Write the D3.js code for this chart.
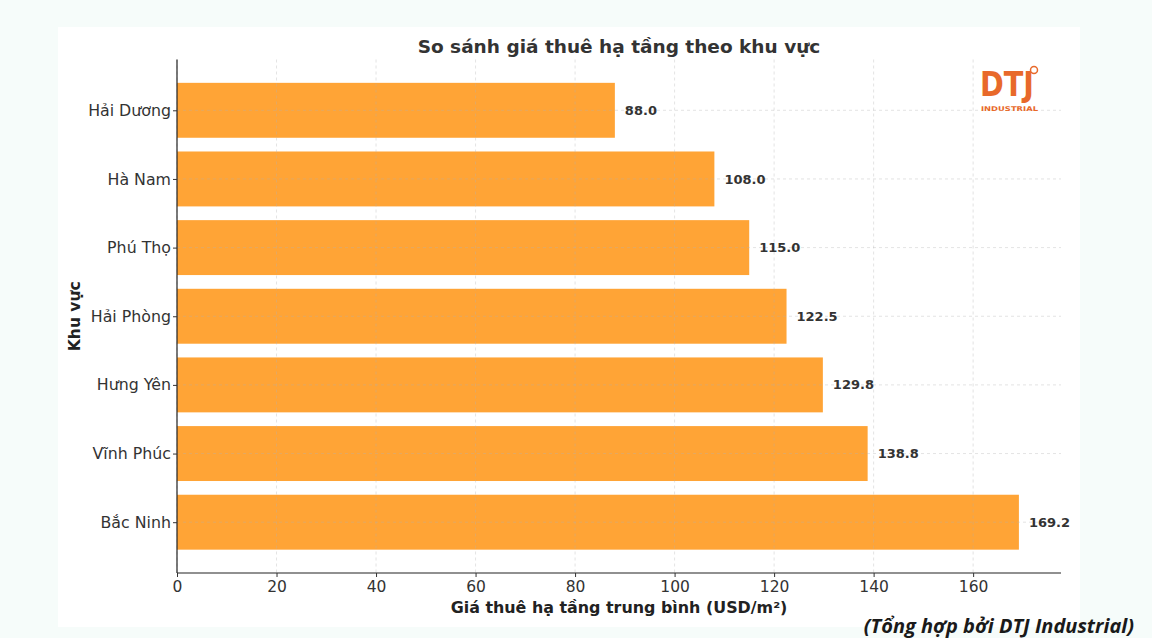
<!DOCTYPE html>
<html><head><meta charset="utf-8">
<script src="https://cdn.jsdelivr.net/npm/d3@7"></script>
<style>
html,body{margin:0;padding:0;background:#f6fcfa;}
svg{display:block;}
</style></head>
<body>
<svg id="chart" width="1152" height="638"></svg>
<script>
const categories = ["Hải Dương","Hà Nam","Phú Thọ","Hải Phòng","Hưng Yên","Vĩnh Phúc","Bắc Ninh"];
const values = [88.0,108.0,115.0,122.5,129.8,138.8,169.2];
const xTicks = [0,20,40,60,80,100,120,140,160];
const title = "So sánh giá thuê hạ tầng theo khu vực";
const xLabel = "Giá thuê hạ tầng trung bình (USD/m²)";
const yLabel = "Khu vực";
const footer = "(Tổng hợp bởi DTJ Industrial)";

(function(){
const svg = d3.select("#chart");
const font = "'DejaVu Sans', sans-serif";
svg.append("rect").attr("x",58).attr("y",27).attr("width",1022).attr("height",600).attr("fill","#ffffff");

const pL=177, pR=1061, pT=59.5, pB=573;
const xMax = d3.max(values)*1.05;
const x = d3.scaleLinear().domain([0,xMax]).range([pL,pR]);
const n = categories.length;
const y = d3.scaleLinear().domain([-0.74, n-1+0.74]).range([pT,pB]);
const bh = y(0.4)-y(-0.4);

svg.append("g").selectAll("rect.bar").data(values).join("rect").attr("class","bar")
 .attr("x",x(0)).attr("y",(d,i)=>y(i)-bh/2).attr("width",d=>x(d)-x(0)).attr("height",bh)
 .attr("fill","#ffa436");

const grid = svg.append("g").attr("stroke","#b0b0b0").attr("stroke-opacity",0.45).attr("stroke-width",0.8).attr("stroke-dasharray","3,3");
grid.selectAll("line.vx").data(xTicks).join("line").attr("class","vx").attr("x1",d=>x(d)).attr("x2",d=>x(d)).attr("y1",pT).attr("y2",pB);
grid.selectAll("line.hy").data(categories).join("line").attr("class","hy").attr("y1",(d,i)=>y(i)).attr("y2",(d,i)=>y(i)).attr("x1",pL).attr("x2",pR);

const xAxis = d3.axisBottom(x).tickValues(xTicks).tickFormat(d3.format("d")).tickSize(4).tickPadding(4);
const xg = svg.append("g").attr("transform",`translate(0,${pB})`).call(xAxis);
xg.select(".domain").attr("stroke","#222").attr("stroke-width",1.2).attr("d",`M${pL},0H${pR}`);
xg.selectAll("text").attr("font-family",font).attr("font-size",15.5).attr("fill","#333");
xg.selectAll(".tick line").attr("stroke","#333");

const yBand = d3.scalePoint().domain(categories).range([y(0),y(n-1)]);
const yAxis = d3.axisLeft(yBand).tickSize(4).tickPadding(2);
const yg = svg.append("g").attr("transform",`translate(${pL},0)`).call(yAxis);
yg.select(".domain").attr("stroke","#222").attr("stroke-width",1.2).attr("d",`M0,${pT}V${pB}`);
yg.selectAll("text").attr("font-family",font).attr("font-size",15.8).attr("fill","#333");
yg.selectAll(".tick line").attr("stroke","#333");

svg.selectAll("text.val").data(values).join("text").attr("class","val")
 .attr("x",d=>x(d)+10).attr("y",(d,i)=>y(i)).attr("dy","0.35em")
 .attr("font-family",font).attr("font-size",13).attr("font-weight","bold").attr("fill","#333")
 .text(d=>d.toFixed(1));

svg.append("text").attr("x",(pL+pR)/2).attr("y",53).attr("text-anchor","middle")
 .attr("font-family",font).attr("font-size",18.5).attr("font-weight","bold").attr("fill","#333").text(title);
svg.append("text").attr("x",(pL+pR)/2).attr("y",613).attr("text-anchor","middle")
 .attr("font-family",font).attr("font-size",15.9).attr("font-weight","bold").attr("fill","#222").text(xLabel);
svg.append("text").attr("transform",`translate(80,${(pT+pB)/2}) rotate(-90)`).attr("text-anchor","middle")
 .attr("font-family",font).attr("font-size",15.5).attr("font-weight","bold").attr("fill","#222").text(yLabel);

svg.append("text").attr("x",1134).attr("y",633).attr("text-anchor","end")
 .attr("font-family","'Open Sans', sans-serif").attr("font-size",20).attr("font-style","italic").attr("font-weight","bold").attr("fill","#1a1a1a").text(footer);

const logo = svg.append("g").attr("transform","translate(980,66)");
logo.append("text").attr("x",0).attr("y",30).attr("font-family",font).attr("font-weight","bold")
 .attr("font-size",34).attr("textLength",54).attr("lengthAdjust","spacingAndGlyphs").attr("fill","#e8692a").text("DTJ");
logo.append("circle").attr("cx",54).attr("cy",4).attr("r",3.5).attr("fill","#fff").attr("stroke","#e8692a").attr("stroke-width",1.5);
logo.append("text").attr("x",1).attr("y",45).attr("font-family",font).attr("font-weight","bold")
 .attr("font-size",6.5).attr("textLength",57).attr("lengthAdjust","spacingAndGlyphs").attr("fill","#e8692a").text("INDUSTRIAL");
})();
</script>
</body></html>
